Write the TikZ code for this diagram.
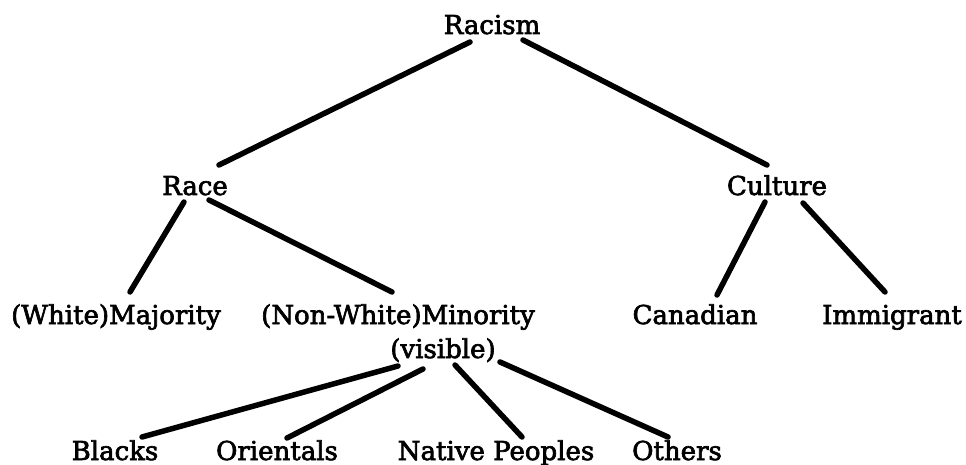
\documentclass[tikz,border=0pt]{standalone}
\usepackage{fontspec}
\setmainfont{DejaVu Serif}
\newfontface\heavyface{DejaVu Serif}[FakeBold=2.5]
\usetikzlibrary{calc}
\begin{document}
\begin{tikzpicture}[x=1pt,y=-1pt,
  txt/.style={inner sep=0pt, anchor=base, font=\heavyface\fontsize{26}{30}\selectfont},
  conn/.style={line width=5.5pt, line cap=round}]
\useasboundingbox (0,0) rectangle (966,465);
\node[txt] (racism)    at (492,34)  {Racism};
\node[txt] (race)      at (195,195) {Race};
\node[txt] (culture)   at (777,195) {Culture};
\node[txt] (majority)  at (116,324) {(White)Majority};
\node[txt] (minority)  at (398,324) {(Non-White)Minority};
\node[txt] (canadian)  at (695,324) {Canadian};
\node[txt] (immigrant) at (892,324) {Immigrant};
\node[txt] (visible)   at (443,358) {(visible)};
\node[txt] (blacks)    at (115,460) {Blacks};
\node[txt] (orientals) at (277,460) {Orientals};
\node[txt] (native)    at (496,460) {Native Peoples};
\node[txt] (others)    at (677,460) {Others};
\draw[conn] ($(racism.base)+(-22,8)$) -- ($(race.base)+(24,-30)$);
\draw[conn] ($(racism.base)+(31,6)$) -- ($(culture.base)+(-10,-30)$);
\draw[conn] ($(race.base)+(-11,7)$) -- ($(majority.base)+(14,-32)$);
\draw[conn] ($(race.base)+(14,5)$) -- ($(minority.base)+(-6,-32)$);
\draw[conn] ($(culture.base)+(-12,7)$) -- ($(canadian.base)+(22,-29)$);
\draw[conn] ($(culture.base)+(26,8)$) -- ($(immigrant.base)+(-7,-32)$);
\draw[conn] ($(visible.base)+(-45,8)$) -- ($(blacks.base)+(27,-23)$);
\draw[conn] ($(visible.base)+(-20,11)$) -- ($(orientals.base)+(10,-22)$);
\draw[conn] ($(visible.base)+(12,7)$) -- ($(native.base)+(26,-23)$);
\draw[conn] ($(visible.base)+(57,4)$) -- ($(others.base)+(-9,-23)$);
\end{tikzpicture}
\end{document}
